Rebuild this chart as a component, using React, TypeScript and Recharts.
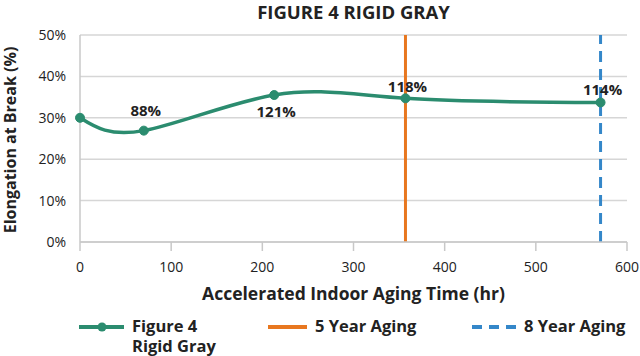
import { LineChart, Line, XAxis, YAxis, CartesianGrid, ReferenceLine, LabelList } from "recharts";

const hours = [0, 70, 213, 357, 571];
const elongation = [30, 26.9, 35.5, 34.7, 33.7];
const retention = ["", "88%", "121%", "118%", "114%"];
const xTicks = [0, 100, 200, 300, 400, 500, 600];
const yTicks = [0, 10, 20, 30, 40, 50];
const fiveYear = 357;
const eightYear = 571;

const GREEN = "#2b8c6f";
const ORANGE = "#e8771f";
const BLUE = "#3487c9";
const FONT = "'Open Sans', 'Noto Sans', sans-serif";

const data = hours.map((h, i) => ({ h, v: elongation[i], tag: retention[i] }));

// label offsets from the point, by index
const labelDy = [0, -21, 16, -12, -13];

const renderTag = (props: any) => {
  const { x, y, index, value } = props;
  if (!value) return null;
  return (
    <text
      x={x + 2}
      y={y + (labelDy[index] ?? -12)}
      textAnchor="middle"
      dominantBaseline="central"
      fontSize={15}
      fontWeight={700}
      fill="#222"
    >
      {value}
    </text>
  );
};

export default function App() {
  return (
    <div style={{ position: "absolute", left: 0, top: 0, width: 640, height: 356, background: "#fff", fontFamily: FONT, color: "#222" }}>
      <div style={{ position: "absolute", left: 80, width: 547, top: 0, textAlign: "center", fontSize: 18.5, fontWeight: 700, lineHeight: "24px" }}>
        FIGURE 4 RIGID GRAY
      </div>
      <div
        style={{
          position: "absolute",
          left: 10,
          top: 140,
          transform: "translate(-50%, -50%) rotate(-90deg)",
          whiteSpace: "nowrap",
          fontSize: 16,
          fontWeight: 700,
          lineHeight: "17px",
        }}
      >
        Elongation at Break (%)
      </div>

      <LineChart width={640} height={310} data={data} margin={{ top: 35, right: 13, left: 0, bottom: 0 }} style={{ fontFamily: FONT }}>
        <CartesianGrid vertical={false} stroke="#d6d6d6" strokeWidth={1.5} />
        <XAxis
          dataKey="h"
          type="number"
          domain={[0, 600]}
          ticks={xTicks}
          height={68}
          stroke="#c8c8c8"
          strokeWidth={1.5}
          tickSize={9}
          tickMargin={11}
          tick={{ fill: "#222", fontSize: 14 }}
        />
        <YAxis
          domain={[0, 50]}
          ticks={yTicks}
          width={80}
          stroke="#c8c8c8"
          strokeWidth={1.5}
          tickLine={false}
          tickSize={6}
          tickMargin={8}
          tickFormatter={(v) => `${v}%`}
          tick={{ fill: "#222", fontSize: 14 }}
        />
        <ReferenceLine x={fiveYear} stroke={ORANGE} strokeWidth={3} />
        <ReferenceLine x={eightYear} stroke={BLUE} strokeWidth={3} strokeDasharray="11 7" />
        <Line
          type="natural"
          dataKey="v"
          stroke={GREEN}
          strokeWidth={3.5}
          dot={{ r: 4.5, fill: GREEN, stroke: GREEN, strokeWidth: 1 }}
          activeDot={false}
          isAnimationActive={false}
        >
          <LabelList dataKey="tag" content={renderTag} />
        </Line>
      </LineChart>

      <div style={{ position: "absolute", left: 80, width: 547, top: 282, textAlign: "center", fontSize: 17.5, fontWeight: 700, lineHeight: "22px", whiteSpace: "nowrap" }}>
        Accelerated Indoor Aging Time (hr)
      </div>

      <div style={{ position: "absolute", left: 0, top: 317, width: 640, fontSize: 16, fontWeight: 700, lineHeight: "18px" }}>
        <svg width={640} height={20} style={{ position: "absolute", left: 0, top: 0 }}>
          <line x1={79} x2={124} y1={10} y2={10} stroke={GREEN} strokeWidth={4} />
          <circle cx={102} cy={10} r={4.5} fill={GREEN} />
          <line x1={268} x2={307} y1={10} y2={10} stroke={ORANGE} strokeWidth={4} />
          <line x1={472} x2={517} y1={10} y2={10} stroke={BLUE} strokeWidth={4} strokeDasharray="10 7" />
        </svg>
        <div style={{ position: "absolute", left: 132, top: 0, whiteSpace: "nowrap", fontSize: 16.5 }}>Figure 4</div>
        <div style={{ position: "absolute", left: 132, top: 20, whiteSpace: "nowrap", fontSize: 16.5 }}>Rigid Gray</div>
        <div style={{ position: "absolute", left: 315, top: 0, whiteSpace: "nowrap", fontSize: 16.5 }}>5 Year Aging</div>
        <div style={{ position: "absolute", left: 524, top: 0, whiteSpace: "nowrap", fontSize: 16.5 }}>8 Year Aging</div>
      </div>
    </div>
  );
}
